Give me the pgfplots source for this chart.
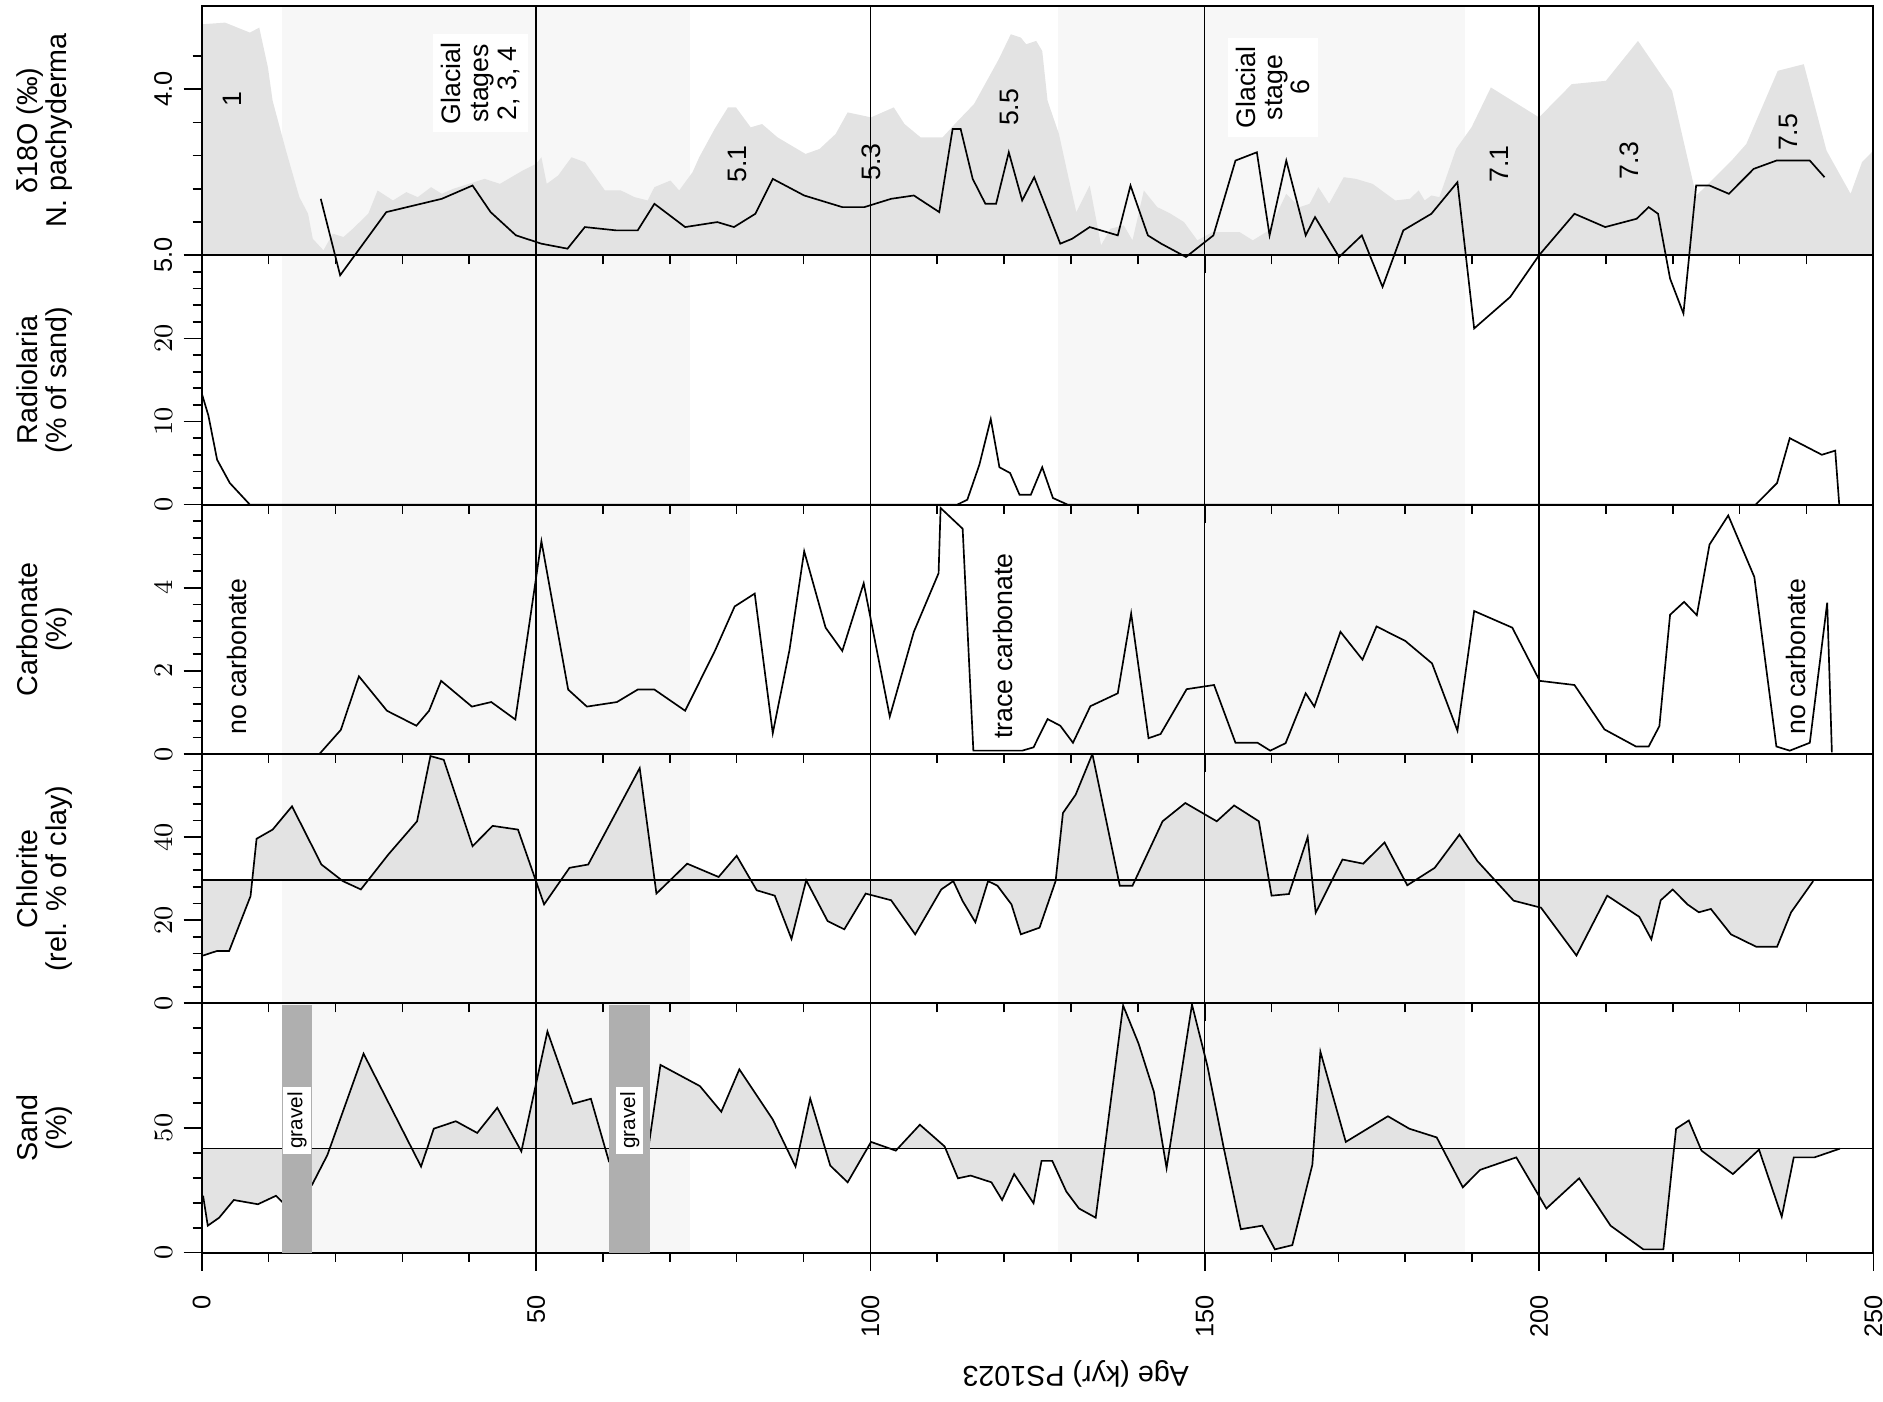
\documentclass[border=0pt]{standalone}
\usepackage{fontspec}
\setmainfont{Liberation Sans}
\usepackage{pgfplots}
\usepackage{pgfplotstable}
\pgfplotsset{compat=1.18}
\usepgfplotslibrary{fillbetween}

\definecolor{band}{HTML}{F7F7F7}
\definecolor{area}{HTML}{E3E3E3}
\definecolor{gravel}{HTML}{AFAFAF}

\newcommand\ann{\fontsize{8}{8.3}\selectfont}

% reference d18O record (grey area)
\pgfplotstableread{
age val
0 3.61
3.5 3.60
7.2 3.66
8.6 3.63
9.9 3.87
10.6 4.07
12.6 4.37
14.6 4.65
15.9 4.75
16.6 4.90
18.2 4.97
19.6 4.87
21.2 4.89
22.6 4.84
24.9 4.75
26.3 4.61
28.6 4.67
30.6 4.62
32.3 4.65
34.3 4.59
35.9 4.63
37.6 4.60
42.3 4.54
44.6 4.57
48.0 4.49
50.0 4.45
50.8 4.41
51.6 4.57
53.3 4.52
55.3 4.41
57.3 4.44
60.3 4.61
62.7 4.61
64.7 4.65
66.7 4.67
67.7 4.59
70.1 4.55
71.4 4.61
73.4 4.50
74.4 4.41
76.7 4.24
78.7 4.11
79.9 4.11
82.1 4.23
83.8 4.21
86.1 4.29
90.3 4.39
92.4 4.36
94.8 4.27
96.6 4.14
100.1 4.17
103.5 4.11
105.1 4.21
107.5 4.29
110.8 4.29
113.1 4.19
115.5 4.09
119.2 3.82
121.0 3.67
122.5 3.69
123.3 3.73
124.8 3.71
125.7 3.77
126.5 4.07
128.2 4.27
129.5 4.51
130.8 4.74
132.8 4.58
134.5 4.94
135.9 4.84
137.9 4.82
139.2 4.91
140.9 4.61
142.9 4.71
144.9 4.75
146.9 4.80
148.9 4.91
151.2 4.86
155.2 4.86
157.2 4.91
159.6 4.85
162.2 4.63
164.2 4.71
165.7 4.69
167.0 4.59
168.6 4.69
170.8 4.53
172.6 4.54
175.1 4.57
178.5 4.67
180.7 4.66
182.0 4.61
182.9 4.67
183.9 4.64
185.1 4.65
187.6 4.36
189.9 4.23
192.8 3.99
196.0 4.07
200.0 4.17
204.9 3.97
210.0 3.95
214.8 3.71
219.9 4.01
221.6 4.31
223.5 4.64
224.3 4.61
228.8 4.43
231.0 4.33
235.7 3.89
239.6 3.85
243.0 4.37
246.6 4.63
248.3 4.44
250.0 4.37
}\isoref

% PS1023 d18O
\pgfplotstableread{
age val
17.8 4.66
20.7 5.12
27.6 4.74
35.9 4.66
40.5 4.58
43.2 4.74
47.0 4.88
50.8 4.93
54.7 4.96
57.3 4.83
62.0 4.85
65.2 4.85
67.7 4.69
72.3 4.83
77.1 4.80
79.6 4.83
82.8 4.75
85.4 4.54
90.1 4.64
95.8 4.71
99.1 4.71
103.1 4.66
106.5 4.64
110.3 4.74
112.3 4.24
113.5 4.24
115.3 4.54
117.2 4.69
118.8 4.69
120.7 4.38
122.7 4.67
124.5 4.53
128.4 4.93
130.2 4.90
132.8 4.83
137.0 4.88
138.9 4.58
141.5 4.88
143.5 4.93
147.2 5.01
151.3 4.88
154.6 4.43
157.8 4.38
159.7 4.88
162.2 4.43
165.1 4.88
166.5 4.77
170.1 5.01
173.5 4.88
176.6 5.19
179.7 4.85
183.9 4.75
187.8 4.56
190.3 5.44
195.7 5.25
200.0 5.00
205.3 4.75
209.9 4.83
214.6 4.78
216.4 4.71
217.8 4.75
219.6 5.14
221.6 5.35
223.5 4.58
225.5 4.58
228.4 4.63
232.1 4.48
235.5 4.43
240.5 4.43
242.7 4.53
}\isoline

\pgfplotstableread{
age val
0 13.4
1.0 10.7
2.3 5.4
4.2 2.6
7.2 0
113.0 0
114.5 0.6
116.3 4.8
118.0 10.3
119.3 4.5
120.9 3.8
122.3 1.2
124.0 1.2
125.7 4.5
127.3 0.8
129.5 0
232.4 0
235.6 2.6
237.5 8.0
242.3 6.0
244.3 6.5
244.9 0
}\radio

\pgfplotstableread{
age val
17.6 0.0
20.8 0.58
23.5 1.87
27.7 1.04
32.1 0.68
34.0 1.04
35.8 1.76
40.4 1.14
43.3 1.25
46.9 0.83
50.8 5.12
54.8 1.55
57.6 1.14
62.1 1.25
65.2 1.55
67.7 1.55
72.3 1.04
76.8 2.5
79.7 3.55
82.7 3.86
85.4 0.50
87.9 2.5
90.1 4.88
93.3 3.04
95.8 2.48
99.0 4.11
102.9 0.90
106.5 2.94
110.2 4.35
110.5 5.92
113.8 5.42
115.4 0.08
122.7 0.08
124.4 0.16
126.5 0.84
128.4 0.68
130.3 0.27
132.9 1.15
137.0 1.46
139.0 3.38
141.6 0.38
143.4 0.48
147.3 1.56
151.4 1.66
154.6 0.27
157.9 0.27
159.8 0.08
162.1 0.26
165.1 1.46
166.4 1.14
170.3 2.94
173.6 2.27
175.7 3.07
180.0 2.72
184.0 2.18
187.8 0.56
190.3 3.44
196.0 3.04
200.1 1.76
205.3 1.66
209.8 0.59
214.5 0.18
216.4 0.18
218.0 0.67
219.6 3.35
221.7 3.66
223.6 3.34
225.5 5.04
228.3 5.74
232.2 4.26
235.5 0.18
237.5 0.08
240.5 0.27
243.1 3.64
243.8 0.04
}\carb

\pgfplotstableread{
age val
0.2 11.5
2.3 12.6
4.1 12.6
7.3 25.8
8.2 39.6
10.6 41.8
13.5 47.4
17.9 33.4
21.1 29.4
23.8 27.4
27.9 35.8
32.2 43.8
34.2 59.5
36.2 58.6
40.5 37.8
43.5 42.7
47.3 41.8
49.9 29.8
51.2 23.8
55.0 32.6
57.8 33.4
65.5 56.6
68.0 26.4
72.6 33.6
77.3 30.4
80.0 35.5
83.0 27.2
85.7 25.9
88.2 15.5
90.4 29.6
93.6 19.8
96.1 17.8
99.3 26.4
103.1 24.8
106.7 16.6
110.6 27.4
112.4 29.4
113.8 24.6
115.7 19.5
117.6 29.4
119.0 28.3
121.1 23.8
122.5 16.6
125.3 18.2
127.7 29.4
128.8 45.8
130.7 50.2
133.2 60.0
137.3 28.3
139.2 28.3
143.7 43.8
147.1 48.2
151.8 43.8
154.4 47.6
158.1 43.8
160.0 25.9
162.6 26.3
165.4 40.0
166.6 21.8
170.6 34.6
173.7 33.6
176.9 38.7
180.3 28.4
184.4 32.6
188.1 40.6
190.8 34.2
196.2 24.7
200.3 23.0
205.6 11.5
210.2 25.9
215.0 20.8
216.8 15.4
218.2 24.8
220.0 27.4
222.2 23.8
223.9 21.9
225.7 22.7
228.7 16.6
232.5 13.6
235.6 13.6
237.7 21.9
241.0 29.4
}\chlor

\pgfplotstableread{
age val
0.2 22.8
0.9 10.8
2.6 14.0
4.8 21.1
8.4 19.4
11.1 22.8
12.0 20.4
16.5 27.2
18.8 39.2
24.2 79.8
32.8 34.5
34.7 49.7
38.0 52.7
41.2 48.0
44.2 58.1
47.8 40.6
51.7 88.7
55.5 59.7
58.2 61.7
60.9 36.6
66.8 42.0
68.6 75.3
74.5 66.8
77.7 56.5
80.4 73.5
85.4 53.4
88.8 34.5
91.0 61.8
94.0 34.9
96.6 28.2
100.1 44.4
103.8 40.9
107.4 51.3
111.1 42.6
113.1 29.8
115.0 30.9
118.1 28.2
119.7 21.1
121.5 31.5
124.4 19.8
125.6 36.8
127.2 36.8
129.3 24.5
131.2 17.7
133.7 14.0
137.8 99.1
140.1 83.9
142.4 64.5
144.3 33.9
148.1 99.5
150.4 74.9
152.8 42.6
155.4 9.4
158.6 10.8
160.5 1.3
163.1 3.0
166.1 35.2
167.3 80.6
171.1 44.4
177.4 54.7
180.6 49.7
184.7 46.2
188.6 26.2
191.2 33.2
196.6 38.2
201.1 17.7
206.0 29.8
210.7 10.8
215.6 1.3
218.6 1.3
220.5 49.7
222.4 53.0
224.3 40.9
229.0 31.5
232.9 41.3
236.3 14.4
238.1 38.2
241.2 38.2
245.0 41.7
}\sand

\pgfplotsset{
  layers/panellayers/.define layer set={axis background,axis grid,pre main,axis ticks,axis lines,axis tick labels,main,axis descriptions,axis foreground}{},
  panel/.style={
    set layers=panellayers,
    scale only axis, width=501.1pt, height=74.74pt,
    anchor=north west,
    xmin=0, xmax=250,
    xtick={0,50,...,250}, minor x tick num=4,
    xticklabels={},
    xmajorgrids, grid style={black, line width=0.45pt},
    tick align=outside, xtick pos=bottom, ytick pos=left,
    major tick length=5.4pt, minor tick length=2.7pt,
    tick style={black, line width=0.5pt},
    axis line style={line width=0.6pt},
    yticklabel style={xshift=-2.5pt, rotate=90, anchor=south, inner sep=0.8pt, font=\fontsize{7.6}{8}\selectfont},
    every axis y label/.style={at={(axis description cs:0,0.5)}, xshift=-47.2pt, rotate=90, anchor=center, align=center, font=\fontsize{8.6}{8.8}\selectfont},
  },
  bandfill/.style={fill=band, draw=none, on layer=axis background, forget plot},
  curve/.style={black, line width=0.5pt, sharp plot, no marks, forget plot},
}

\begin{document}
\begin{tikzpicture}

% Radiolaria
\begin{axis}[panel, at={(0,-74.74pt)},
  ymin=0, ymax=30, ytick={0,10,20}, minor ytick={2,4,6,8,12,14,16,18,22,24,26,28},
  ylabel={Radiolaria\\(\% of sand)}]
\addplot[bandfill] coordinates {(12,0)(73,0)(73,30)(12,30)} -- cycle;
\addplot[bandfill] coordinates {(128,0)(189,0)(189,30)(128,30)} -- cycle;
\addplot[curve] table {\radio};
\end{axis}

% Carbonate
\begin{axis}[panel, at={(0,-149.48pt)},
  ymin=0, ymax=6, ytick={0,2,4}, minor ytick={0.4,0.8,1.2,1.6,2.4,2.8,3.2,3.6,4.4,4.8,5.2,5.6},
  ylabel={Carbonate\\(\%)}]
\addplot[bandfill] coordinates {(12,0)(73,0)(73,6)(12,6)} -- cycle;
\addplot[bandfill] coordinates {(128,0)(189,0)(189,6)(128,6)} -- cycle;
\addplot[curve] table {\carb};
\node[rotate=90, font=\ann] at (5.2,2.34) {no carbonate};
\node[rotate=90, font=\ann] at (119.9,2.6) {trace carbonate};
\node[rotate=90, font=\ann] at (238.4,2.34) {no carbonate};
\end{axis}

% Chlorite
\begin{axis}[panel, at={(0,-224.22pt)},
  ymin=0, ymax=60, ytick={0,20,40}, minor ytick={4,8,12,16,24,28,32,36,44,48,52,56},
  ylabel={Chlorite\\(rel. \% of clay)}]
\addplot[bandfill] coordinates {(12,0)(73,0)(73,60)(12,60)} -- cycle;
\addplot[bandfill] coordinates {(128,0)(189,0)(189,60)(128,60)} -- cycle;
\addplot[curve, name path=chl] table {\chlor};
\addplot[draw=none, name path=chlref, forget plot] coordinates {(0.2,29.7)(241,29.7)};
\addplot[area, draw=none, forget plot] fill between[of=chl and chlref];
\addplot[curve] coordinates {(0,29.7)(250,29.7)};
\end{axis}

% Sand
\begin{axis}[panel, at={(0,-298.96pt)},
  ymin=0, ymax=100, ytick={0,50}, minor ytick={10,20,30,40,60,70,80,90},
  ylabel={Sand\\(\%)},
  xticklabels={0,50,100,150,200,250},
  xticklabel style={yshift=-6.2pt, rotate=90, anchor=east, inner sep=1pt, font=\fontsize{7.6}{8}\selectfont},
  xlabel={Age (kyr) PS1023},
  every axis x label/.style={at={(axis description cs:0,0)}, xshift=262pt, yshift=-36.3pt, rotate=180, anchor=center, font=\fontsize{8.6}{8.8}\selectfont}]
\addplot[bandfill] coordinates {(12,0)(73,0)(73,100)(12,100)} -- cycle;
\addplot[bandfill] coordinates {(128,0)(189,0)(189,100)(128,100)} -- cycle;
\addplot[curve, name path=snd] table {\sand};
\addplot[draw=none, name path=sndref, forget plot] coordinates {(0.2,41.8)(245,41.8)};
\addplot[area, draw=none, forget plot] fill between[of=snd and sndref];
\addplot[curve] coordinates {(0,41.8)(250,41.8)};
\addplot[fill=gravel, draw=none, forget plot] coordinates {(12,0)(16.5,0)(16.5,99.2)(12,99.2)} -- cycle;
\addplot[fill=gravel, draw=none, forget plot] coordinates {(60.9,0)(67.1,0)(67.1,99.2)(60.9,99.2)} -- cycle;
\node[rotate=90, fill=white, inner xsep=1.5pt, inner ysep=1.2pt, font=\fontsize{6.2}{6.5}\selectfont] at (14.25,53) {gravel};
\node[rotate=90, fill=white, inner xsep=1.5pt, inner ysep=1.2pt, font=\fontsize{6.2}{6.5}\selectfont] at (64,53) {gravel};
\end{axis}

% d18O (drawn last: its curve runs below the panel)
\begin{axis}[panel, at={(0,0)},
  ymin=3.5, ymax=5, y dir=reverse, clip=false,
  ytick={4,5}, yticklabels={4.0,5.0}, minor ytick={3.8,4.2,4.4,4.6,4.8},
  ylabel={δ18O (‰)\\N. pachyderma}]
\addplot[bandfill] coordinates {(12,3.5)(73,3.5)(73,5)(12,5)} -- cycle;
\addplot[bandfill] coordinates {(128,3.5)(189,3.5)(189,5)(128,5)} -- cycle;
\addplot[draw=none, name path=iso, forget plot] table {\isoref};
\addplot[draw=none, name path=isobase, forget plot] coordinates {(0,5)(250,5)};
\addplot[area, draw=none, forget plot] fill between[of=iso and isobase];
\addplot[curve] table {\isoline};
\node[rotate=90, font=\ann] at (4.5,4.06) {1};
\node[rotate=90, fill=white, align=center, inner sep=2.5pt, font=\fontsize{8}{8.3}\selectfont] at (41.7,3.965) {Glacial\\stages\\2, 3, 4};
\node[rotate=90, fill=white, align=center, inner sep=2.5pt, font=\fontsize{8}{8.1}\selectfont] at (160.2,3.99) {Glacial\\stage\\6};
\node[rotate=90, font=\ann] at (80.1,4.45) {5.1};
\node[rotate=90, font=\ann] at (100.1,4.44) {5.3};
\node[rotate=90, font=\ann] at (120.8,4.11) {5.5};
\node[rotate=90, font=\ann] at (194.0,4.45) {7.1};
\node[rotate=90, font=\ann] at (213.5,4.43) {7.3};
\node[rotate=90, font=\ann] at (237.3,4.26) {7.5};
\end{axis}

\pgfresetboundingbox
\path[use as bounding box] (-60.48pt,1.8pt) rectangle (504pt,-418.32pt);
\end{tikzpicture}
\end{document}
